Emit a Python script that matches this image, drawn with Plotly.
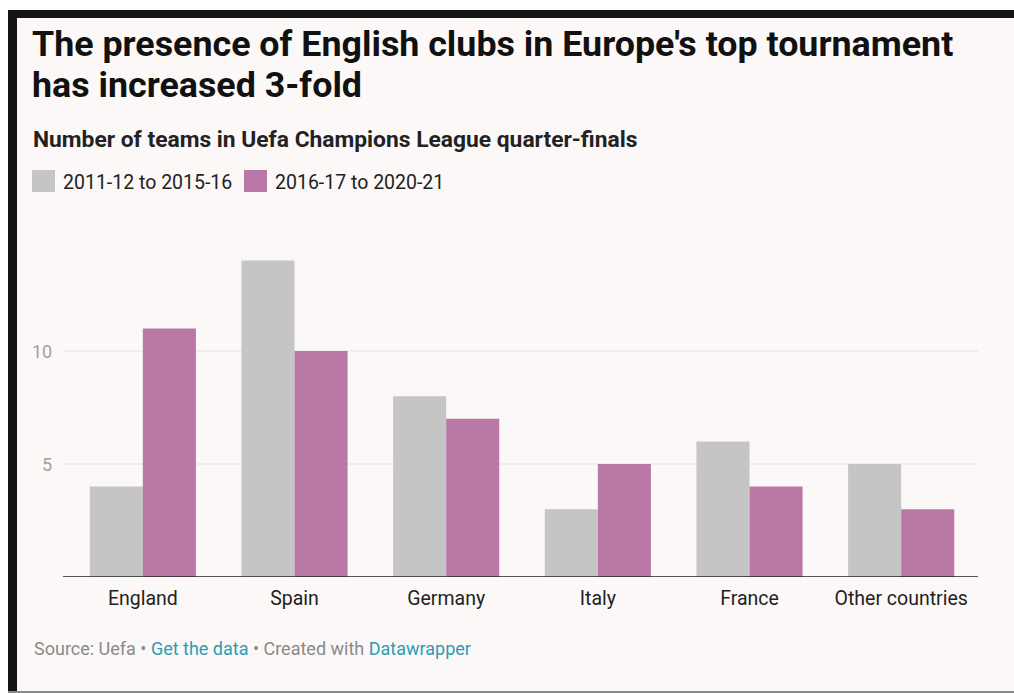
import plotly.graph_objects as go

categories = ["England", "Spain", "Germany", "Italy", "France", "Other countries"]
series_names = ["2011-12 to 2015-16", "2016-17 to 2020-21"]
values_early = [4, 14, 8, 3, 6, 5]
values_late = [11, 10, 7, 5, 4, 3]
y_ticks = [5, 10]

W, H = 1014, 693
GRAY = "#c5c5c5"
PINK = "#b978a6"
BG = "#fcf8f8"
FONT = "Roboto"

def px(x):
    return x / W

def py(y):
    return (H - y) / H

fig = go.Figure()
fig.add_trace(go.Bar(x=categories, y=values_early, name=series_names[0],
                     marker=dict(color=GRAY, line=dict(width=0)), showlegend=False,
                     hoverinfo="skip"))
fig.add_trace(go.Bar(x=categories, y=values_late, name=series_names[1],
                     marker=dict(color=PINK, line=dict(width=0)), showlegend=False,
                     hoverinfo="skip"))

y_max = 15
base_px = 577
unit = 22.6
top_px = base_px - y_max * unit

shapes = []
for t in y_ticks:
    shapes.append(dict(type="line", xref="paper", yref="y", x0=px(63), x1=px(978), y0=t, y1=t,
                       line=dict(color="#e3e0e0", width=1), layer="below"))
shapes.append(dict(type="line", xref="paper", yref="y", x0=px(63), x1=px(978), y0=0, y1=0,
                   line=dict(color="#222222", width=1.5), layer="above"))
shapes += [
    dict(type="rect", xref="paper", yref="paper", x0=0, x1=1, y0=py(10), y1=1,
         fillcolor="white", line=dict(width=0), layer="above"),
    dict(type="rect", xref="paper", yref="paper", x0=0, x1=px(8), y0=0, y1=1,
         fillcolor="white", line=dict(width=0), layer="above"),
    dict(type="rect", xref="paper", yref="paper", x0=px(8), x1=1, y0=py(18), y1=py(10),
         fillcolor="#141414", line=dict(width=0), layer="above"),
    dict(type="rect", xref="paper", yref="paper", x0=px(8), x1=px(17), y0=0, y1=py(10),
         fillcolor="#141414", line=dict(width=0), layer="above"),
    dict(type="rect", xref="paper", yref="paper", x0=px(8), x1=1, y0=0, y1=py(691),
         fillcolor="#8a8a8a", line=dict(width=0), layer="above"),
]
shapes += [
    dict(type="rect", xref="paper", yref="paper", x0=px(32), x1=px(55), y0=py(192), y1=py(170),
         fillcolor=GRAY, line=dict(width=0)),
    dict(type="rect", xref="paper", yref="paper", x0=px(244), x1=px(267), y0=py(192), y1=py(170),
         fillcolor=PINK, line=dict(width=0)),
]

title_font = dict(family=FONT, size=35.8, color="#111111")
annotations = [
    dict(text="<b>The presence of English clubs in Europe's top tournament</b>",
         xref="paper", yref="paper", x=px(30), y=py(44), xanchor="left", yanchor="middle",
         showarrow=False, font=title_font),
    dict(text="<b>has increased 3-fold</b>",
         xref="paper", yref="paper", x=px(30), y=py(85), xanchor="left", yanchor="middle",
         showarrow=False, font=title_font),
    dict(text="<b>Number of teams in Uefa Champions League quarter-finals</b>",
         xref="paper", yref="paper", x=px(31), y=py(139), xanchor="left", yanchor="middle",
         showarrow=False, font=dict(family=FONT, size=22.8, color="#222222")),
    dict(text=series_names[0], xref="paper", yref="paper", x=px(61), y=py(182),
         xanchor="left", yanchor="middle", showarrow=False,
         font=dict(family=FONT, size=19.5, color="#222222")),
    dict(text=series_names[1], xref="paper", yref="paper", x=px(273), y=py(182),
         xanchor="left", yanchor="middle", showarrow=False,
         font=dict(family=FONT, size=19.5, color="#222222")),
    dict(text="Source: Uefa • <span style='color:#2a9db5'>Get the data</span> • Created with "
              "<span style='color:#2a9db5'>Datawrapper</span>",
         xref="paper", yref="paper", x=px(32), y=py(648), xanchor="left", yanchor="middle",
         showarrow=False, font=dict(family=FONT, size=18, color="#8a8a8a")),
]
for t in y_ticks:
    annotations.append(dict(text=str(t), xref="paper", yref="y", x=px(54), y=t,
                            xanchor="right", yanchor="middle", showarrow=False,
                            font=dict(family=FONT, size=18, color="#a0a0a0")))

fig.update_layout(
    width=W, height=H,
    margin=dict(l=0, r=0, t=0, b=0),
    paper_bgcolor=BG, plot_bgcolor="rgba(0,0,0,0)",
    barmode="group", bargap=0.3, bargroupgap=0,
    font=dict(family=FONT),
    xaxis=dict(domain=[px(67), px(977)], showgrid=False, zeroline=False, showline=False,
               ticks="", tickfont=dict(family=FONT, size=19.5, color="#222222"),
               ticklabelstandoff=7, fixedrange=True),
    yaxis=dict(domain=[py(base_px), py(top_px)], range=[0, y_max], showgrid=False,
               zeroline=False, showline=False, showticklabels=False, fixedrange=True),
    shapes=shapes, annotations=annotations,
)

fig.write_html("out.html")
